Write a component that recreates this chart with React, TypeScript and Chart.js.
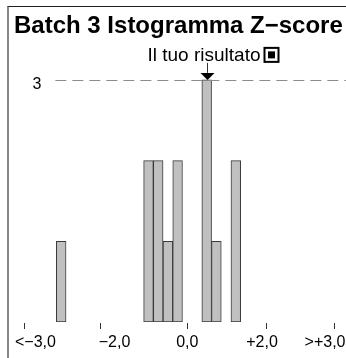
import React, { useEffect, useRef } from "react";
import { Chart, registerables } from "chart.js";

Chart.register(...registerables);

// ---- data ----
const binCenters = [-2.6, -0.8, -0.6, -0.4, -0.2, 0.4, 0.6, 1.0];
const binCounts = [1, 2, 2, 1, 2, 3, 1, 2];
const tickValues = [-3.37, -1.81, 0, 1.62, 3.02];
const tickLabels = ["<\u22123,0", "\u22122,0", "0,0", "+2,0", ">+3,0"];
const labelValues = [-3.13, -1.5, 0, 1.54, 2.84];
const refLevel = 3;
const yourResult = 0.4;
const binWidth = 0.2;
const titleText = "Batch 3 Istogramma Z\u2212score";
const markerText = "Il tuo risultato";

const FONT = '"Liberation Sans", Arial, Helvetica, sans-serif';

const overlayPlugin = {
  id: "overlay",
  afterDatasetsDraw(chart: any) {
    const { ctx, chartArea, scales } = chart;
    const xs = scales.x;
    const ys = scales.y;
    ctx.save();

    // title
    ctx.fillStyle = "#000";
    ctx.font = `bold 24px ${FONT}`;
    ctx.textAlign = "left";
    ctx.textBaseline = "alphabetic";
    ctx.fillText(titleText, 14, 33);

    // reference dashed line
    const firstEdge = Math.min(...binCenters) - binWidth / 2;
    const yRef = Math.round(ys.getPixelForValue(refLevel)) + 0.5;
    ctx.strokeStyle = "#8c8c8c";
    ctx.lineWidth = 1;
    ctx.setLineDash([11, 6]);
    ctx.beginPath();
    ctx.moveTo(xs.getPixelForValue(firstEdge) - 1, yRef);
    ctx.lineTo(chartArea.right + 5, yRef);
    ctx.stroke();
    ctx.setLineDash([]);

    // reference label
    ctx.fillStyle = "#000";
    ctx.font = `16px ${FONT}`;
    ctx.textAlign = "right";
    ctx.fillText(String(refLevel), xs.getPixelForValue(firstEdge) - 15, yRef + 8);

    // x ticks and labels
    ctx.strokeStyle = "#333";
    ctx.lineWidth = 1;
    tickValues.forEach((v) => {
      const px = Math.round(xs.getPixelForValue(v)) + 0.5;
      ctx.beginPath();
      ctx.moveTo(px, chartArea.bottom + 1);
      ctx.lineTo(px, chartArea.bottom + 7);
      ctx.stroke();
    });
    ctx.textAlign = "center";
    ctx.fillStyle = "#000";
    ctx.font = `16px ${FONT}`;
    tickLabels.forEach((t, i) => {
      ctx.fillText(t, xs.getPixelForValue(labelValues[i]), chartArea.bottom + 25);
    });

    // marker
    const idx = binCenters.indexOf(yourResult);
    const mx = Math.round(xs.getPixelForValue(yourResult)) + 0.5;
    const my = ys.getPixelForValue(binCounts[idx]);
    ctx.fillStyle = "#000";
    ctx.beginPath();
    ctx.moveTo(mx, my);
    ctx.lineTo(mx - 7, my - 7);
    ctx.lineTo(mx + 7, my - 7);
    ctx.closePath();
    ctx.fill();
    ctx.strokeStyle = "#333";
    ctx.beginPath();
    ctx.moveTo(mx, my - 7);
    ctx.lineTo(mx, my - 17);
    ctx.stroke();

    ctx.font = `19px ${FONT}`;
    ctx.textAlign = "left";
    const textX = mx - 60;
    const baseY = my - 19;
    ctx.fillText(markerText, textX, baseY);
    const tw = ctx.measureText(markerText).width;
    const bx = textX + tw + 3;
    const by = baseY - 14;
    ctx.strokeStyle = "#000";
    ctx.lineWidth = 2;
    ctx.strokeRect(bx + 1, by + 1, 14, 14);
    ctx.fillRect(bx + 4.5, by + 4.5, 7, 7);

    ctx.restore();
  },
};

export default function App() {
  const ref = useRef<HTMLCanvasElement | null>(null);
  useEffect(() => {
    if (!ref.current) return;
    const chart = new Chart(ref.current, {
      type: "bar",
      data: {
        datasets: [
          {
            data: binCenters.map((x, i) => ({ x, y: binCounts[i] })),
            backgroundColor: "#c0c0c0",
            borderColor: "#3a3a3a",
            borderWidth: 1,
            borderSkipped: false,
            barPercentage: 1,
            categoryPercentage: 1,
          },
        ],
      },
      options: {
        responsive: false,
        animation: false,
        events: [],
        layout: { padding: { left: 12.7, right: 0.1, top: 47.6, bottom: 36 } },
        plugins: { legend: { display: false }, tooltip: { enabled: false } },
        scales: {
          x: { type: "linear", min: -3.6, max: 3.27, display: false, offset: false },
          y: { min: 0, max: 3.4, display: false },
        },
      },
      plugins: [overlayPlugin],
    });
    return () => chart.destroy();
  }, []);

  return (
    <div
      style={{
        position: "fixed",
        left: 0,
        top: 0,
        width: 346,
        height: 358,
        overflow: "hidden",
        background: "#fff",
      }}
    >
      <canvas ref={ref} width={346} height={358} style={{ position: "absolute", left: 0, top: 0 }} />
      <div
        style={{
          position: "absolute",
          left: 7,
          top: 6,
          width: 400,
          height: 400,
          borderLeft: "2px solid #888",
          borderTop: "1px solid #222",
          pointerEvents: "none",
        }}
      />
    </div>
  );
}
